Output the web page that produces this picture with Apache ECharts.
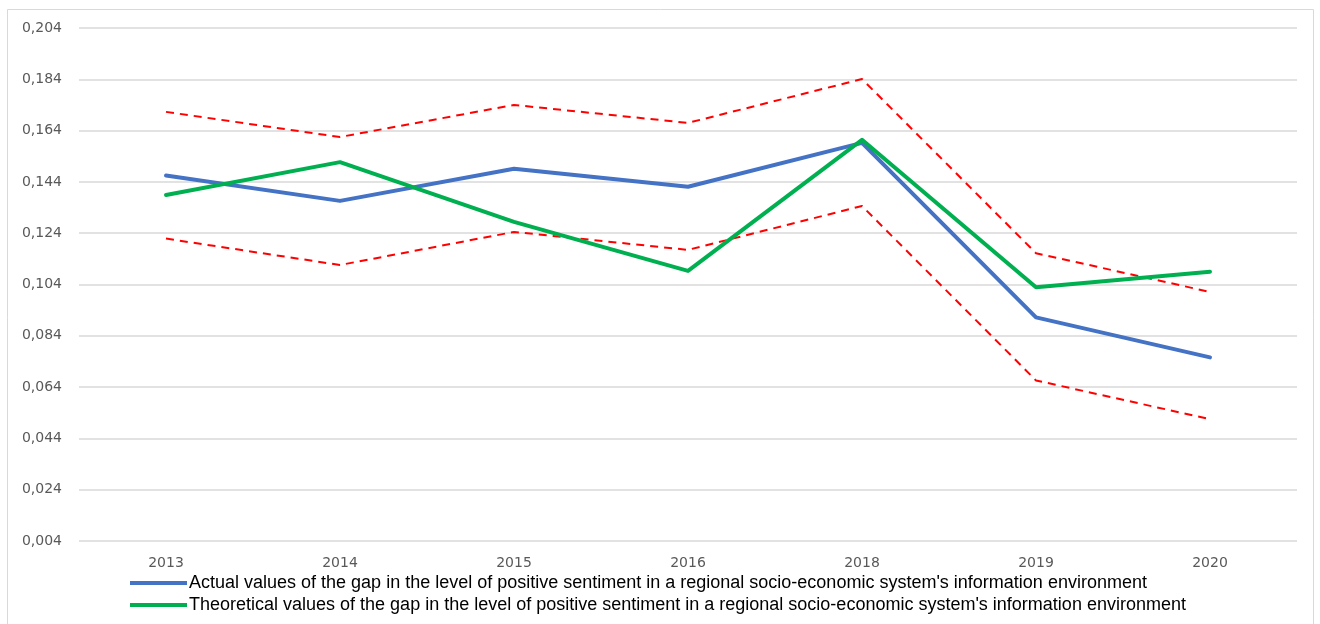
<!DOCTYPE html>
<html>
<head>
<meta charset="utf-8">
<style>
  html, body { margin: 0; padding: 0; background: #fff; }
  #chart { width: 1320px; height: 624px; }
</style>
<script src="https://cdn.jsdelivr.net/npm/echarts@6/dist/echarts.min.js"></script>
</head>
<body>
<div id="chart"></div>
<script>
// Years on the horizontal axis (2017 is absent in the series)
const years = ['2013', '2014', '2015', '2016', '2018', '2019', '2020'];

// Actual gap values
const actualValues = [0.1465, 0.1366, 0.1491, 0.1421, 0.1592, 0.0912, 0.0756];
// Theoretical (model) gap values
const theoreticalValues = [0.1389, 0.1517, 0.1284, 0.1093, 0.1604, 0.1029, 0.1090];
// Confidence band around the theoretical values
const upperBound = [0.1713, 0.1615, 0.1740, 0.1670, 0.1841, 0.1162, 0.1011];
const lowerBound = [0.1219, 0.1116, 0.1245, 0.1175, 0.1346, 0.0666, 0.0515];

// Value axis range
const yMin = 0.004;
const yMax = 0.204;
const yStep = 0.02;

const actualName = "Actual values of the gap in the level of positive sentiment in a regional socio-economic system's information environment";
const theoreticalName = "Theoretical values of the gap in the level of positive sentiment in a regional socio-economic system's information environment";

const chart = echarts.init(document.getElementById('chart'), null, { renderer: 'canvas' });

const axisFont = 'DejaVu Sans';
const legendFont = "'Liberation Sans', Arial, sans-serif";

chart.setOption({
  animation: false,
  backgroundColor: '#ffffff',
  graphic: [{
    type: 'rect',
    shape: { x: 7.5, y: 9.5, width: 1306, height: 640 },
    style: { fill: 'none', stroke: '#d9d9d9', lineWidth: 1 },
    silent: true
  }],
  grid: { left: 79, right: 23, top: 28, bottom: 83, containLabel: false },
  legend: {
    data: [actualName, theoreticalName],
    orient: 'vertical',
    left: 130,
    top: 574,
    icon: 'rect',
    itemWidth: 57,
    itemHeight: 4,
    itemGap: 4,
    padding: 0,
    textStyle: { fontFamily: legendFont, fontSize: 18, color: '#000000', padding: [0, 0, 0, -3] },
    selectedMode: false
  },
  xAxis: {
    type: 'category',
    data: years,
    boundaryGap: true,
    axisLine: { show: false },
    axisTick: { show: false },
    axisLabel: { color: '#595959', fontFamily: axisFont, fontSize: 14, margin: 15 }
  },
  yAxis: {
    type: 'value',
    min: yMin,
    max: yMax,
    interval: yStep,
    axisLine: { show: false },
    axisTick: { show: false },
    splitLine: { lineStyle: { color: '#d9d9d9', width: 1.5 } },
    axisLabel: {
      color: '#595959', fontFamily: axisFont, fontSize: 14, margin: 17,
      formatter: v => v.toFixed(3).replace('.', ',')
    }
  },
  series: [
    {
      name: 'upper', type: 'line', data: upperBound, symbol: 'none',
      lineStyle: { color: '#ff0000', width: 2, type: [8, 6] }, z: 2
    },
    {
      name: 'lower', type: 'line', data: lowerBound, symbol: 'none',
      lineStyle: { color: '#ff0000', width: 2, type: [8, 6] }, z: 2
    },
    {
      name: actualName, type: 'line', data: actualValues, symbol: 'none',
      itemStyle: { color: '#4472c4' },
      lineStyle: { color: '#4472c4', width: 4, cap: 'round', join: 'round' }, z: 3
    },
    {
      name: theoreticalName, type: 'line', data: theoreticalValues, symbol: 'none',
      itemStyle: { color: '#00b050' },
      lineStyle: { color: '#00b050', width: 4, cap: 'round', join: 'round' }, z: 4
    }
  ]
});
</script>
</body>
</html>
